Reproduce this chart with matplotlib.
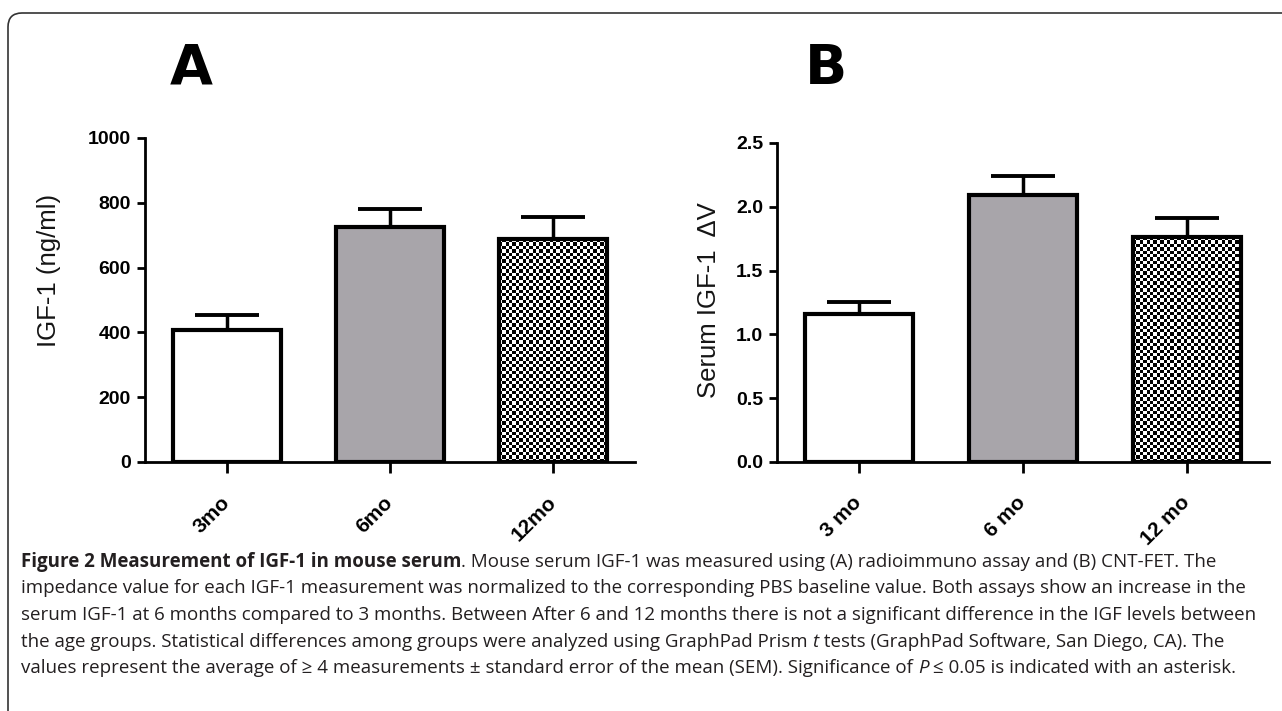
import numpy as np
import matplotlib
matplotlib.use('Agg')
import matplotlib.pyplot as plt
from matplotlib import font_manager
from matplotlib.patches import FancyBboxPatch
from matplotlib.transforms import IdentityTransform

# data
groups_a = ['3mo', '6mo', '12mo']
igf_ngml = [408, 725, 688]
igf_ngml_sem = [45, 56, 68]

groups_b = ['3 mo', '6 mo', '12 mo']
igf_dv = [1.16, 2.09, 1.76]
igf_dv_sem = [0.09, 0.15, 0.15]

caption_lines = [
    [("Figure 2 Measurement of IGF-1 in mouse serum", 'bold', 'normal'),
     (". Mouse serum IGF-1 was measured using (A) radioimmuno assay and (B) CNT-FET. The", 'normal', 'normal')],
    [("impedance value for each IGF-1 measurement was normalized to the corresponding PBS baseline value. Both assays show an increase in the", 'normal', 'normal')],
    [("serum IGF-1 at 6 months compared to 3 months. Between After 6 and 12 months there is not a significant difference in the IGF levels between", 'normal', 'normal')],
    [("the age groups. Statistical differences among groups were analyzed using GraphPad Prism ", 'normal', 'normal'),
     ("t", 'normal', 'italic'),
     (" tests (GraphPad Software, San Diego, CA). The", 'normal', 'normal')],
    [("values represent the average of \u2265 4 measurements \u00b1 standard error of the mean (SEM). Significance of ", 'normal', 'normal'),
     ("P", 'normal', 'italic'),
     (" \u2264 0.05 is indicated with an asterisk.", 'normal', 'normal')],
]

W, H = 1282, 711
fig = plt.figure(figsize=(W / 100, H / 100), dpi=100)
fig.patch.set_facecolor('white')

def px_axes(left, right, top, bottom):
    return fig.add_axes([left / W, 1 - bottom / H, (right - left) / W, (bottom - top) / H])

ax_a = px_axes(145, 635, 138, 462)
ax_b = px_axes(777, 1269, 143, 462)

tick_font = dict(family='Liberation Sans', weight='bold')
bar_w = 0.66
fills = ['white', '#a8a5aa', 'checker']


def panel(ax, labels, vals, sems, ymax, yticks, ytick_fmt):
    x = np.arange(len(labels))
    ax.set_xlim(-0.5, 2.5)
    ax.set_ylim(0, ymax)
    bars = ax.bar(x, vals, width=bar_w, color='white', edgecolor='black', linewidth=3, zorder=3)
    for b, f in zip(bars, fills):
        if f == 'checker':
            b.set_facecolor('none')
            x0, x1 = b.get_x(), b.get_x() + b.get_width()
            p0 = ax.transData.transform((x0, 0))
            p1 = ax.transData.transform((x1, b.get_height()))
            nx = int(round((p1[0] - p0[0]) / 3.4))
            ny = int(round((p1[1] - p0[1]) / 3.4))
            chk = np.indices((ny, nx)).sum(axis=0) % 2
            im = ax.imshow(chk, cmap='gray', vmin=0, vmax=1, extent=(x0, x1, 0, b.get_height()),
                           origin='lower', interpolation='nearest', aspect='auto', zorder=2)
            im.set_clip_path(b)
        else:
            b.set_facecolor(f)
    ax.errorbar(x, vals, yerr=[np.zeros(len(vals)), sems], fmt='none', ecolor='black',
                elinewidth=2.5, capsize=23, capthick=2.8, zorder=2.5)
    ax.set_xlim(-0.5, 2.5)
    ax.set_ylim(0, ymax)
    for s in ['top', 'right']:
        ax.spines[s].set_visible(False)
    for s in ['left', 'bottom']:
        ax.spines[s].set_linewidth(2)
    ax.set_yticks(yticks)
    ax.set_yticklabels([ytick_fmt.format(v) for v in yticks], fontsize=14, **tick_font)
    ax.set_xticks(x)
    ax.set_xticklabels(labels, fontsize=15, rotation=45, ha='right', va='center',
                       rotation_mode='anchor', **tick_font)
    ax.tick_params(axis='y', direction='out', length=6, width=2, pad=4)
    ax.tick_params(axis='x', direction='out', length=8, width=2, pad=19)


panel(ax_a, groups_a, igf_ngml, igf_ngml_sem, 1000, [0, 200, 400, 600, 800, 1000], '{:.0f}')
panel(ax_b, groups_b, igf_dv, igf_dv_sem, 2.5, [0.0, 0.5, 1.0, 1.5, 2.0, 2.5], '{:.1f}')

# axis titles and panel letters
fig.text(49 / W, 1 - 270 / H, 'IGF-1 (ng/ml)', rotation=90, ha='center', va='center',
         fontsize=18.5, family='Liberation Sans', color='#151515')
fig.text(709 / W, 1 - 300 / H, 'Serum IGF-1  \u0394V', rotation=90, ha='center', va='center',
         fontsize=18.5, family='Liberation Sans', color='#151515')
fig.text(191 / W, 1 - 69 / H, 'A', ha='center', va='center', fontsize=40,
         family='DejaVu Sans', weight='heavy')
fig.text(826 / W, 1 - 69 / H, 'B', ha='center', va='center', fontsize=40,
         family='DejaVu Sans', weight='heavy')

# rounded frame, cut by the image edge on the right and bottom
frame = FancyBboxPatch((8, -60), 1330, 698 + 60, boxstyle='round,pad=0,rounding_size=14',
                       transform=IdentityTransform(), facecolor='none', edgecolor='#333333',
                       linewidth=1.2, zorder=0)
fig.patches.append(frame)

# caption, laid out piece by piece
installed = {f.name for f in font_manager.fontManager.ttflist}
if 'Liberation Sans Narrow' in installed:
    cap_family = ['Liberation Sans Narrow', 'DejaVu Sans']
else:
    cap_family = ['Open Sans', 'DejaVu Sans']
renderer = fig.canvas.get_renderer()


def draw_line(pieces, y, size, keep=True):
    x = 21
    made = []
    for txt, wgt, sty in pieces:
        t = fig.text(x / W, 1 - y / H, txt, fontsize=size, family=cap_family, weight=wgt,
                     style=sty, color='#231f20', ha='left', va='baseline')
        made.append(t)
        x += t.get_window_extent(renderer).width
    if not keep:
        for t in made:
            t.remove()
    return x - 21


base = 10
widest = max(draw_line(line, 567, base, keep=False) for line in caption_lines)
cap_size = base * 1238 / widest
for line, y in zip(caption_lines, [567, 593, 620, 647, 673]):
    draw_line(line, y, cap_size)

fig.savefig('out.png', dpi=100, facecolor='white')
